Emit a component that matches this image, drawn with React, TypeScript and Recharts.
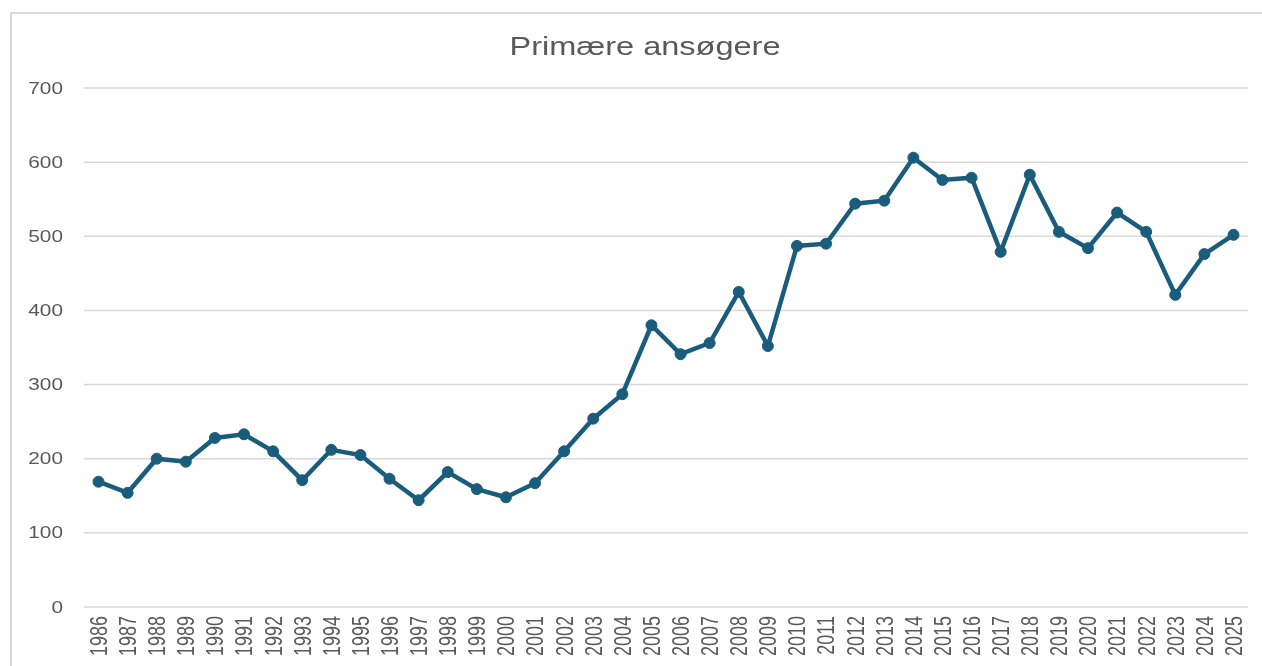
import { LineChart, Line, XAxis, YAxis, CartesianGrid } from 'recharts';

const years = [
  '1986', '1987', '1988', '1989', '1990', '1991', '1992', '1993', '1994', '1995',
  '1996', '1997', '1998', '1999', '2000', '2001', '2002', '2003', '2004', '2005',
  '2006', '2007', '2008', '2009', '2010', '2011', '2012', '2013', '2014', '2015',
  '2016', '2017', '2018', '2019', '2020', '2021', '2022', '2023', '2024', '2025',
];

const applicants = [
  169, 154, 200, 196, 228, 233, 210, 171, 212, 205,
  173, 144, 182, 159, 148, 167, 210, 254, 287, 380,
  341, 356, 425, 352, 487, 490, 544, 548, 606, 576,
  579, 479, 583, 506, 484, 532, 506, 421, 476, 502,
];

const yTicks = [0, 100, 200, 300, 400, 500, 600, 700];

const chartTitle = 'Primære ansøgere';

const data = years.map((year, i) => ({ year, value: applicants[i] }));

const FONT = '"Liberation Sans", Arial, sans-serif';
const LINE_COLOR = '#1a5c7c';
const TEXT_COLOR = '#595959';
// the reference picture is stretched sideways a bit
const STRETCH = 1.3;

function YearTick(props: any) {
  const { x, y, payload } = props;
  return (
    <text
      transform={`translate(${x},${y + 7}) scale(${STRETCH},1) rotate(-90)`}
      textAnchor="end"
      dominantBaseline="central"
      fill={TEXT_COLOR}
      fontSize={18}
      fontFamily={FONT}
    >
      {payload.value}
    </text>
  );
}

function ValueTick(props: any) {
  const { y, payload } = props;
  return (
    <text
      transform={`translate(63,${y}) scale(${STRETCH},1)`}
      textAnchor="end"
      dominantBaseline="central"
      fill={TEXT_COLOR}
      fontSize={16}
      fontFamily={FONT}
    >
      {payload.value}
    </text>
  );
}

export default function App() {
  return (
    <div style={{ position: 'fixed', left: 0, top: 0, width: 1262, height: 666, background: '#fff' }}>
      <div
        style={{
          position: 'absolute',
          left: 10,
          top: 12,
          width: 1300,
          height: 700,
          borderLeft: '2px solid #d9d9d9',
          borderTop: '2px solid #d9d9d9',
        }}
      />
      <div
        style={{
          position: 'absolute',
          left: 0,
          top: 32,
          width: 1290,
          textAlign: 'center',
          fontFamily: FONT,
          fontSize: 25,
          color: TEXT_COLOR,
          transform: `scaleX(${STRETCH})`,
          transformOrigin: '645px 0',
        }}
      >
        {chartTitle}
      </div>
      <div style={{ position: 'absolute', left: 0, top: 0 }}>
        <LineChart width={1262} height={666} data={data} margin={{ top: 88, right: 14, bottom: 0, left: 0 }}>
          <CartesianGrid vertical={false} stroke="#d9d9d9" strokeWidth={1.5} />
          <XAxis
            dataKey="year"
            interval={0}
            axisLine={false}
            tickLine={false}
            tickSize={0}
            padding={{ left: 14.5, right: 14.5 }}
            height={59}
            tick={<YearTick />}
          />
          <YAxis
            domain={[0, 700]}
            ticks={yTicks}
            width={84}
            axisLine={false}
            tickLine={false}
            tickSize={0}
            tick={<ValueTick />}
          />
          <Line
            type="linear"
            dataKey="value"
            stroke={LINE_COLOR}
            strokeWidth={4.5}
            dot={{ r: 5.5, fill: LINE_COLOR, stroke: LINE_COLOR, strokeWidth: 1 }}
            isAnimationActive={false}
          />
        </LineChart>
      </div>
    </div>
  );
}
